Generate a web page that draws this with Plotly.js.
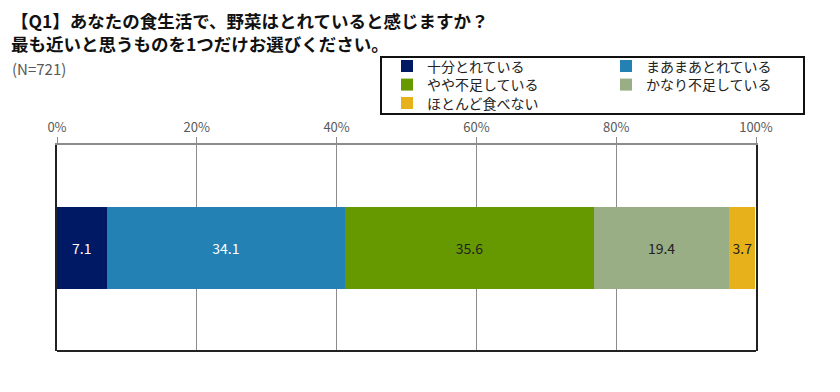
<!DOCTYPE html>
<html><head><meta charset="utf-8">
<script src="https://cdn.plot.ly/plotly-3.0.1.min.js"></script>
<style>html,body{margin:0;padding:0;background:#fff}#chart{width:840px;height:392px}</style>
</head><body><div id="chart"></div>
<script>
const categories = ['全体'];
const seriesNames = ['十分とれている','まあまあとれている','やや不足している','かなり不足している','ほとんど食べない'];
const seriesValues = [[7.1],[34.1],[35.6],[19.4],[3.7]];
const seriesColors = ['#001965','#2381B4','#669900','#99AE85','#E6B11A'];
const labelColors = ['#ffffff','#ffffff','#222222','#222222','#222222'];
const tickVals = [0,20,40,60,80,100];
const tickLabels = ['0%','20%','40%','60%','80%','100%'];
const legendOf = ['legend','legend','legend2','legend2','legend3'];

const FONT = '"Noto Sans CJK JP", "Noto Sans", sans-serif';
const traces = seriesNames.map((n,i)=>({
  type:'bar', orientation:'h', name:n,
  x: seriesValues[i], y: categories,
  marker:{color:seriesColors[i], line:{width:0}},
  text: seriesValues[i].map(v=>v.toFixed(1)),
  textposition:'inside', insidetextanchor:'middle', textangle:0,
  textfont:{color:labelColors[i], size:14, family:FONT},
  hoverinfo:'skip', legend: legendOf[i], width:0.4
}));

const legBase = {orientation:'h', entrywidth:174, entrywidthmode:'pixels', xanchor:'left', yanchor:'middle', traceorder:'normal',
  bgcolor:'rgba(0,0,0,0)', borderwidth:0, font:{family:FONT,size:14,color:'#222'}, itemclick:false, itemdoubleclick:false};
const W=699, H=206, L=57, T=145;
const px = x=>(x-L)/W, py = y=>(T+H-y)/H;

const layout = {
  width:840, height:392,
  margin:{l:L, r:840-L-W, t:T, b:392-T-H, autoexpand:false},
  paper_bgcolor:'#fff', plot_bgcolor:'#fff',
  barmode:'stack', bargap:0.6, showlegend:true,
  uniformtext:{minsize:14, mode:'show'},
  font:{family:FONT},
  xaxis:{range:[0,100], side:'top', tickvals:tickVals, ticktext:tickLabels, showgrid:true, gridcolor:'#8c8c8c', gridwidth:1,
    showline:true, linecolor:'#8c8c8c', linewidth:2, ticks:'outside', ticklen:6, tickcolor:'#8c8c8c', tickwidth:1,
    zeroline:false, tickfont:{family:FONT, size:13, color:'#595959'}, fixedrange:true},
  yaxis:{range:[-0.5,0.5], showticklabels:false, showgrid:false, zeroline:false, showline:true, linecolor:'#222', linewidth:2, mirror:true, fixedrange:true},
  legend:Object.assign({}, legBase, {x:px(387), y:py(66.5)}),
  legend2:Object.assign({}, legBase, {x:px(387), y:py(85)}),
  legend3:Object.assign({}, legBase, {x:px(387), y:py(103.5)}),
  shapes:[
    {type:'line', xref:'paper', yref:'paper', x0:0, x1:1, y0:0, y1:0, line:{color:'#222', width:2}},
    {type:'rect', xref:'paper', yref:'paper', x0:px(381), x1:px(804), y0:py(114), y1:py(57), line:{color:'#111', width:2}, fillcolor:'#fff', layer:'above'}
  ],
  annotations:[
    {xref:'paper', yref:'paper', x:px(9), y:py(6), xanchor:'left', yanchor:'top', showarrow:false, align:'left',
     text:'<b>【Q1】あなたの食生活で、野菜はとれていると感じますか？<br>最も近いと思うものを1つだけお選びください。</b>', font:{family:FONT, size:17.5, color:'#111'}},
    {xref:'paper', yref:'paper', x:px(10), y:py(69), xanchor:'left', yanchor:'middle', showarrow:false, align:'left',
     text:'(N=721)', font:{family:FONT, size:15, color:'#595959'}}
  ]
};
Plotly.newPlot('chart', traces, layout, {displayModeBar:false, staticPlot:true});
</script></body></html>
